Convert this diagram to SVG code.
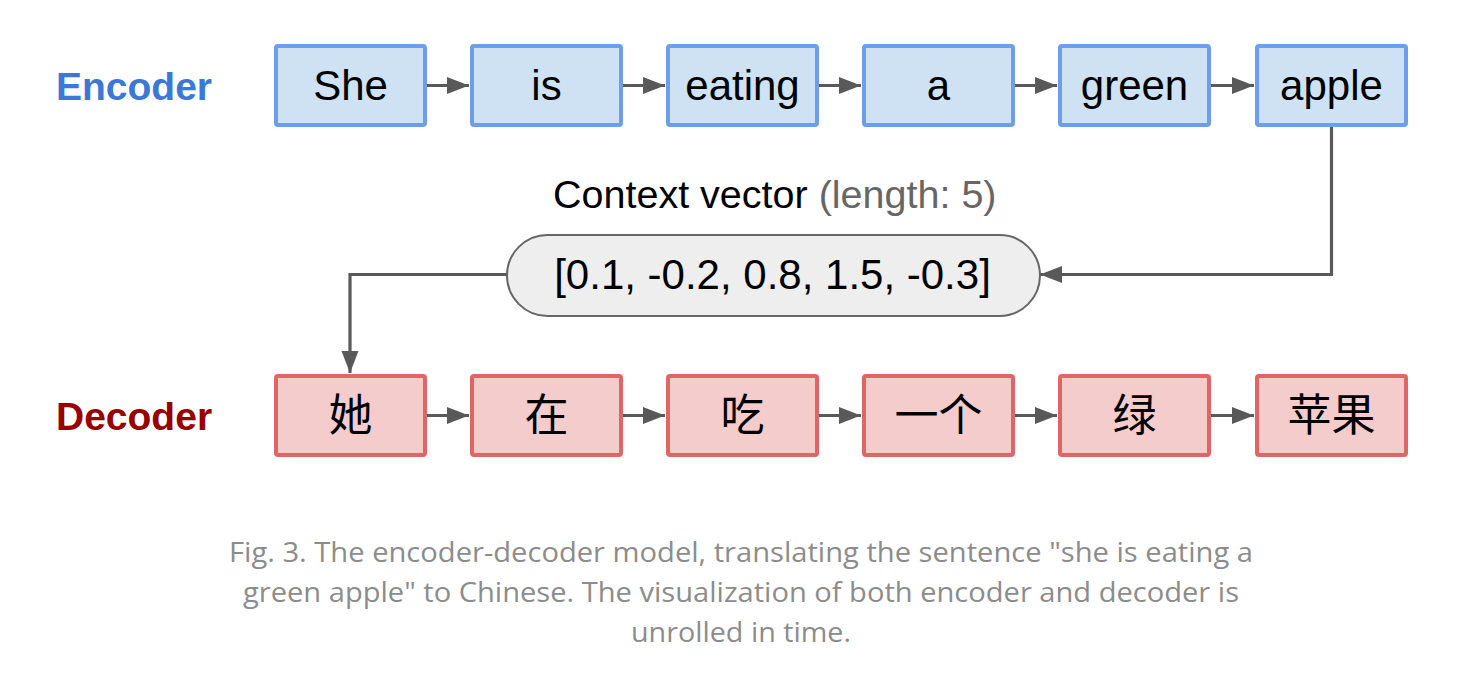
<svg xmlns="http://www.w3.org/2000/svg" width="1476" height="688" viewBox="0 0 1476 688">
<style>
.enc rect{fill:#cfe2f3;stroke:#6d9eeb;stroke-width:4}
.dec rect{fill:#f4cccc;stroke:#e06666;stroke-width:4}
.lbl{font-family:"Liberation Sans",Arial,sans-serif;font-size:42px;fill:#000;text-anchor:middle}
.cjk{font-family:"Noto Sans CJK SC","Liberation Sans",sans-serif;font-size:44px;fill:#000;text-anchor:middle}
.side{font-family:"Liberation Sans",Arial,sans-serif;font-size:39px;font-weight:bold}
.conn path{fill:none;stroke:#595959;stroke-width:3.2}
.cap{font-family:"Open Sans","Noto Sans",sans-serif;font-size:27px;fill:#8c8c8c;text-anchor:middle}
</style>
<defs>
<marker id="ah" markerUnits="userSpaceOnUse" markerWidth="24" markerHeight="18" refX="22" refY="8.5" orient="auto">
<path d="M0,0 L22,8.5 L0,17 Z" fill="#595959"/>
</marker>
</defs>
<rect width="1476" height="688" fill="#fff"/>
<text class="side" x="56" y="100" fill="#3c78d8">Encoder</text>
<text class="side" x="56" y="430" fill="#990000">Decoder</text>
<g id="enc1" class="enc"><rect x="276" y="46" width="149" height="79" rx="2"/><text class="lbl" x="350.5" y="100">She</text></g>
<g id="enc2" class="enc"><rect x="472" y="46" width="149" height="79" rx="2"/><text class="lbl" x="546.5" y="100">is</text></g>
<g id="enc3" class="enc"><rect x="668" y="46" width="149" height="79" rx="2"/><text class="lbl" x="742.5" y="100">eating</text></g>
<g id="enc4" class="enc"><rect x="864" y="46" width="149" height="79" rx="2"/><text class="lbl" x="938.5" y="100">a</text></g>
<g id="enc5" class="enc"><rect x="1060" y="46" width="149" height="79" rx="2"/><text class="lbl" x="1134.5" y="100">green</text></g>
<g id="enc6" class="enc"><rect x="1257" y="46" width="149" height="79" rx="2"/><text class="lbl" x="1331.5" y="100">apple</text></g>
<g id="ctx">
<text x="553" y="208" font-family="Liberation Sans,Arial,sans-serif" font-size="39.5px" fill="#000">Context vector <tspan fill="#666666">(length: 5)</tspan></text>
<rect x="507" y="235" width="533" height="81" rx="40.5" fill="#eeeeee" stroke="#666666" stroke-width="2"/>
<text class="lbl" x="772.5" y="289">[0.1, -0.2, 0.8, 1.5, -0.3]</text>
</g>
<g id="dec1" class="dec"><rect x="276" y="376" width="149" height="79" rx="2"/><text class="cjk" x="350.5" y="431">她</text></g>
<g id="dec2" class="dec"><rect x="472" y="376" width="149" height="79" rx="2"/><text class="cjk" x="546.5" y="431">在</text></g>
<g id="dec3" class="dec"><rect x="668" y="376" width="149" height="79" rx="2"/><text class="cjk" x="742.5" y="431">吃</text></g>
<g id="dec4" class="dec"><rect x="864" y="376" width="149" height="79" rx="2"/><text class="cjk" x="938.5" y="431">一个</text></g>
<g id="dec5" class="dec"><rect x="1060" y="376" width="149" height="79" rx="2"/><text class="cjk" x="1134.5" y="431">绿</text></g>
<g id="dec6" class="dec"><rect x="1257" y="376" width="149" height="79" rx="2"/><text class="cjk" x="1331.5" y="431">苹果</text></g>
<g id="connectors" class="conn">
<path d="M427,85.5 H469" marker-end="url(#ah)"/>
<path d="M623,85.5 H665" marker-end="url(#ah)"/>
<path d="M819,85.5 H861" marker-end="url(#ah)"/>
<path d="M1015,85.5 H1057" marker-end="url(#ah)"/>
<path d="M1211,85.5 H1254" marker-end="url(#ah)"/>
<path d="M1331.5,127 V274.5 H1040" marker-end="url(#ah)"/>
<path d="M507,274.5 H350 V373" marker-end="url(#ah)"/>
<path d="M427,415.5 H469" marker-end="url(#ah)"/>
<path d="M623,415.5 H665" marker-end="url(#ah)"/>
<path d="M819,415.5 H861" marker-end="url(#ah)"/>
<path d="M1015,415.5 H1057" marker-end="url(#ah)"/>
<path d="M1211,415.5 H1254" marker-end="url(#ah)"/>
</g>
<g id="caption">
<text class="cap" x="741" y="562" textLength="1024" lengthAdjust="spacingAndGlyphs">Fig. 3. The encoder-decoder model, translating the sentence "she is eating a</text>
<text class="cap" x="741" y="602" textLength="996" lengthAdjust="spacingAndGlyphs">green apple" to Chinese. The visualization of both encoder and decoder is</text>
<text class="cap" x="741" y="642" textLength="220" lengthAdjust="spacingAndGlyphs">unrolled in time.</text>
</g>
</svg>
